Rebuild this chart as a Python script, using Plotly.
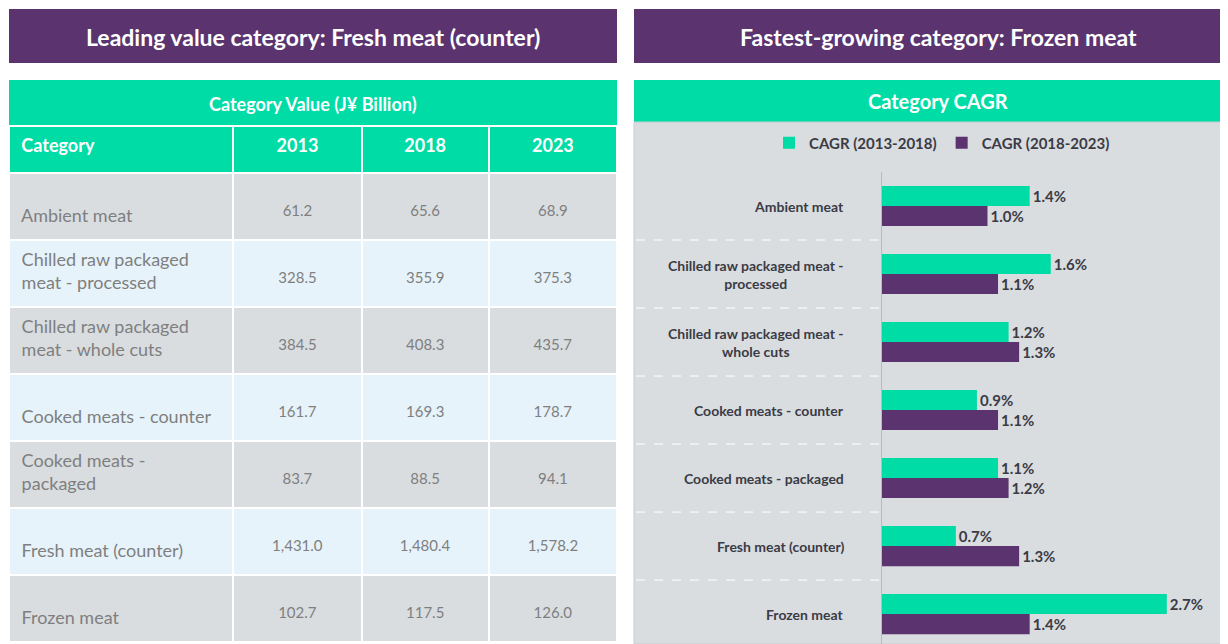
import plotly.graph_objects as go

# ---------------- data ----------------
categories = [
    "Ambient meat",
    "Chilled raw packaged meat - processed",
    "Chilled raw packaged meat - whole cuts",
    "Cooked meats - counter",
    "Cooked meats - packaged",
    "Fresh meat (counter)",
    "Frozen meat",
]
table_labels = [
    "Ambient meat",
    "Chilled raw packaged<br>meat - processed",
    "Chilled raw packaged<br>meat - whole cuts",
    "Cooked meats - counter",
    "Cooked meats -<br>packaged",
    "Fresh meat (counter)",
    "Frozen meat",
]
chart_labels = [
    "Ambient meat",
    "Chilled raw packaged meat -<br>processed",
    "Chilled raw packaged meat -<br>whole cuts",
    "Cooked meats - counter",
    "Cooked meats - packaged",
    "Fresh meat (counter)",
    "Frozen meat",
]
years = ["2013", "2018", "2023"]
value_2013 = [61.2, 328.5, 384.5, 161.7, 83.7, 1431.0, 102.7]
value_2018 = [65.6, 355.9, 408.3, 169.3, 88.5, 1480.4, 117.5]
value_2023 = [68.9, 375.3, 435.7, 178.7, 94.1, 1578.2, 126.0]
cagr_2013_2018 = [1.4, 1.6, 1.2, 0.9, 1.1, 0.7, 2.7]
cagr_2018_2023 = [1.0, 1.1, 1.3, 1.1, 1.2, 1.3, 1.4]

left_title = "Leading value category: Fresh meat (counter)"
right_title = "Fastest-growing category: Frozen meat"
table_title = "Category Value (J\u00a5 Billion)"
chart_title = "Category CAGR"
series_names = ["CAGR (2013-2018)", "CAGR (2018-2023)"]

# ---------------- style ----------------
OFF = 8                      # page body margin
W, H = 1228 - OFF, 644 - OFF
PURPLE = "#5a336f"
GREEN = "#00dca5"
ROW_GRAY = "#d9dde0"
ROW_BLUE = "#e6f3fa"
PANEL = "#d9dde0"
TXT_GRAY = "#7f7f7f"
DARK = "#3b3b45"
FONT = "Lato"
NB = "&nbsp;"


def px(x):
    return (x - OFF) / W


def py(y):
    return 1 - (y - OFF) / H


def fmt(v):
    return f"{v:,.1f}"


def label_cell(t):
    lines = [NB + s for s in t.split("<br>")]
    if len(lines) == 1:
        lines = [NB] + lines          # push single-line text toward mid-row
    return "<br>".join(lines)


fig = go.Figure()

# ---------------- table ----------------
row_fill = [ROW_GRAY if i % 2 == 0 else ROW_BLUE for i in range(len(categories))]
fig.add_trace(go.Table(
    domain=dict(x=[px(9), px(617)], y=[0, py(126)]),
    columnwidth=[224, 128, 127, 128],
    header=dict(
        values=[f"<b>{NB}Category</b>"] + [f"<b>{y}</b>" for y in years],
        align=["left", "center", "center", "center"],
        fill_color=GREEN,
        line=dict(color="white", width=2),
        font=dict(family=FONT, size=18, color="white"),
        height=47,
    ),
    cells=dict(
        values=[
            [label_cell(t) for t in table_labels],
            [NB + "<br>" + fmt(v) for v in value_2013],
            [NB + "<br>" + fmt(v) for v in value_2018],
            [NB + "<br>" + fmt(v) for v in value_2023],
        ],
        align=["left", "center", "center", "center"],
        fill_color=[row_fill] * 4,
        line=dict(color="white", width=2),
        font=dict(family=FONT, size=[18, 15, 15, 15], color=TXT_GRAY),
        height=67,
    ),
))

# ---------------- bar chart ----------------
for name, vals, col in [(series_names[0], cagr_2013_2018, GREEN),
                        (series_names[1], cagr_2018_2023, PURPLE)]:
    fig.add_trace(go.Bar(
        y=categories, x=vals, name=name, orientation="h",
        marker=dict(color=col, line=dict(width=0)),
        text=[f"<b>{v:.1f}%</b>" for v in vals],
        textposition="outside",
        textfont=dict(family=FONT, size=15, color=DARK),
        cliponaxis=False,
        hoverinfo="skip",
    ))

fig.update_layout(
    width=W, height=H,
    margin=dict(l=0, r=0, t=0, b=0),
    paper_bgcolor="white",
    plot_bgcolor="rgba(0,0,0,0)",
    barmode="group",
    bargap=0.41,
    bargroupgap=0,
    font=dict(family=FONT),
    xaxis=dict(domain=[px(882), 1], range=[0, 3.28], visible=False),
    yaxis=dict(
        domain=[0, py(172)],
        categoryorder="array", categoryarray=categories,
        range=[6.44, -0.5],
        showticklabels=False, showgrid=False, zeroline=False,
        showline=True, linecolor="#b8bcc0", linewidth=1,
    ),
    legend=dict(
        orientation="h", x=px(942), xanchor="center", y=py(143), yanchor="middle",
        bgcolor="rgba(0,0,0,0)", font=dict(family=FONT, size=15, color=DARK, weight="bold"),
        itemwidth=30, traceorder="normal",
    ),
    showlegend=True,
)

shapes = [
    # title banners
    dict(type="rect", xref="paper", yref="paper", x0=px(9), x1=px(617), y0=py(63), y1=py(9),
         fillcolor=PURPLE, line_width=0, layer="below"),
    dict(type="rect", xref="paper", yref="paper", x0=px(634), x1=1, y0=py(63), y1=py(9),
         fillcolor=PURPLE, line_width=0, layer="below"),
    # table title band
    dict(type="rect", xref="paper", yref="paper", x0=px(9), x1=px(617), y0=py(126), y1=py(80),
         fillcolor=GREEN, line_width=0, layer="below"),
    # chart header band and panel
    dict(type="rect", xref="paper", yref="paper", x0=px(634), x1=1, y0=py(122), y1=py(80),
         fillcolor=GREEN, line_width=0, layer="below"),
    dict(type="rect", xref="paper", yref="paper", x0=px(634), x1=1, y0=0, y1=py(122),
         fillcolor=PANEL, line=dict(color="#c8ccd0", width=1), layer="below"),
]
# dashed category dividers in the label area
for k in range(len(categories) - 1):
    shapes.append(dict(type="line", xref="paper", yref="y", x0=px(636), x1=px(882),
                       y0=k + 0.5, y1=k + 0.5, line=dict(color="white", width=1, dash="dash"),
                       layer="above"))
fig.update_layout(shapes=shapes)

annotations = [
    dict(text=f"<b>{left_title}</b>", xref="paper", yref="paper", x=px(313), y=py(37),
         xanchor="center", yanchor="middle",
         showarrow=False, font=dict(family=FONT, size=23, color="white")),
    dict(text=f"<b>{right_title}</b>", xref="paper", yref="paper", x=px(938), y=py(37),
         xanchor="center", yanchor="middle",
         showarrow=False, font=dict(family=FONT, size=23, color="white")),
    dict(text=f"<b>{table_title}</b>", xref="paper", yref="paper", x=px(313), y=py(104),
         xanchor="center", yanchor="middle",
         showarrow=False, font=dict(family=FONT, size=18, color="white")),
    dict(text=f"<b>{chart_title}</b>", xref="paper", yref="paper", x=px(938), y=py(101),
         xanchor="center", yanchor="middle",
         showarrow=False, font=dict(family=FONT, size=20, color="white")),
]
for cat, lab in zip(categories, chart_labels):
    annotations.append(dict(text=f"<b>{lab}</b>", xref="paper", yref="y", x=px(846), y=cat,
                            xanchor="right", yanchor="middle", align="center", showarrow=False,
                            font=dict(family=FONT, size=14, color=DARK)))
fig.update_layout(annotations=annotations)

fig.write_html("out.html")
